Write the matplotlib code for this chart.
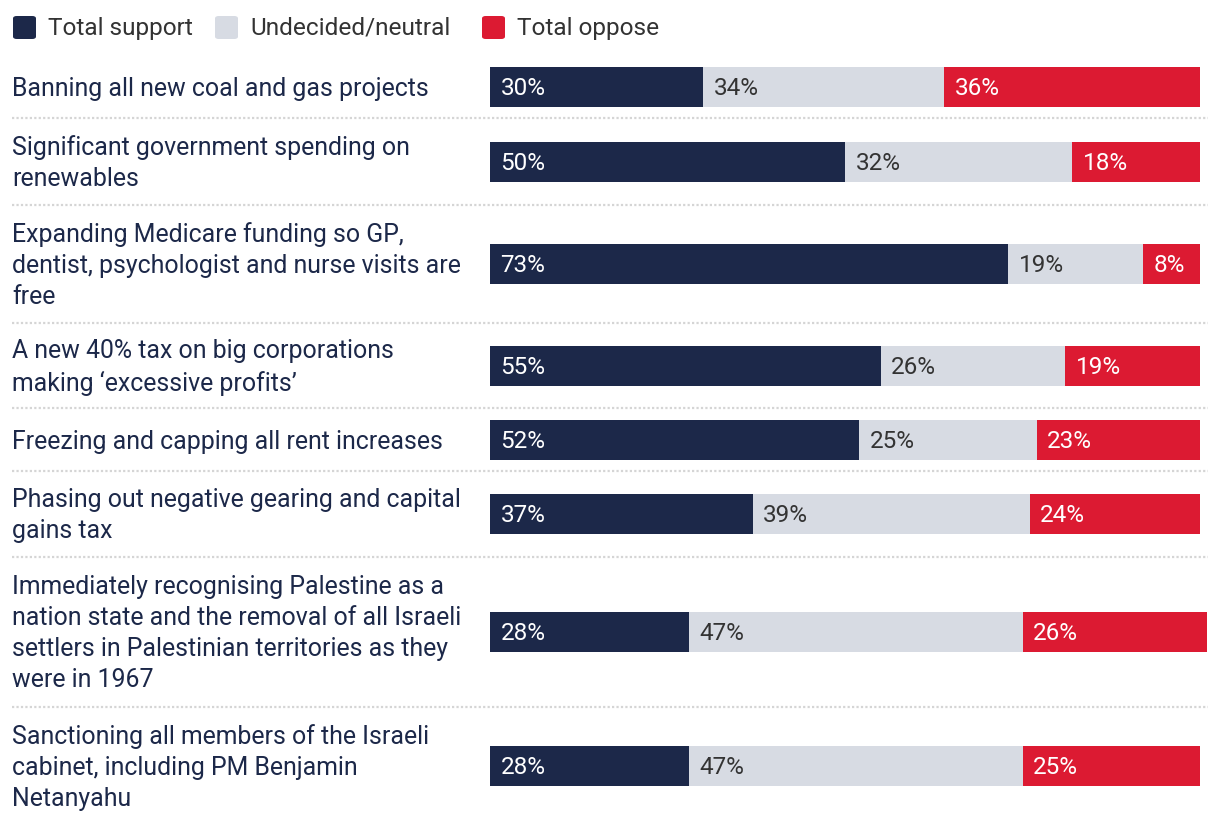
import matplotlib
matplotlib.use("Agg")
import matplotlib.pyplot as plt
from matplotlib import transforms
from matplotlib.lines import Line2D
from matplotlib.patches import FancyBboxPatch

plt.rcParams['font.family'] = ['Roboto', 'DejaVu Sans']

questions = [
    "Banning all new coal and gas projects",
    "Significant government spending on\nrenewables",
    "Expanding Medicare funding so GP,\ndentist, psychologist and nurse visits are\nfree",
    "A new 40% tax on big corporations\nmaking \u2018excessive profits\u2019",
    "Freezing and capping all rent increases",
    "Phasing out negative gearing and capital\ngains tax",
    "Immediately recognising Palestine as a\nnation state and the removal of all Israeli\nsettlers in Palestinian territories as they\nwere in 1967",
    "Sanctioning all members of the Israeli\ncabinet, including PM Benjamin\nNetanyahu",
]
support = [30, 50, 73, 55, 52, 37, 28, 28]
neutral = [34, 32, 19, 26, 25, 39, 47, 47]
oppose = [36, 18, 8, 19, 23, 24, 26, 25]

series_names = ["Total support", "Undecided/neutral", "Total oppose"]
colors = ["#1c2849", "#d7dbe3", "#dc1a32"]
text_colors = ["white", "#333333", "white"]

# layout (pixel rows, top = 0)
W, H = 1220, 824
row_y = [87, 162, 264, 366, 440, 514, 632, 766]
sep_y = [118, 205, 323, 408, 471, 557, 707]

fig = plt.figure(figsize=(W / 100, H / 100), dpi=100)
ax = fig.add_axes([490 / W, 0, 710 / W, 1])
ax.set_xlim(0, 100)
ax.set_ylim(H, 0)
ax.axis("off")

lefts = [0] * len(support)
for vals, col, tcol in zip([support, neutral, oppose], colors, text_colors):
    bars = ax.barh(row_y, vals, left=lefts, height=40, color=col, linewidth=0)
    for b in bars:
        b.set_clip_on(False)
    for y, v, l in zip(row_y, vals, lefts):
        ax.annotate(f"{v}%", (l, y + 1), xytext=(7.5, 0), textcoords="offset points",
                    ha="left", va="center", color=tcol, fontsize=17.5)
    lefts = [a + b for a, b in zip(lefts, vals)]

lab_tr = transforms.blended_transform_factory(fig.transFigure, ax.transData)
for y, q in zip(row_y, questions):
    fig.text(12 / W, y + 1.5, q, transform=lab_tr, ha="left", va="center",
             fontsize=17.9, color="#1c2849", linespacing=1.37)

for y in sep_y:
    fig.add_artist(Line2D([12 / W, 1208 / W], [y, y], transform=lab_tr,
                          color="#d5d5d5", lw=1.6, linestyle=(0, (1, 1))))

# legend
leg_x = [12, 214, 481]
for x, name, col in zip(leg_x, series_names, colors):
    fig.add_artist(FancyBboxPatch(((x + 1) / W, 1 - 39 / H), 23 / W, 23 / H,
                                  boxstyle="round,pad=0,rounding_size=0.003",
                                  transform=fig.transFigure, color=col, lw=0))
    fig.text((x + 36) / W, 1 - 28 / H, name, ha="left", va="center",
             fontsize=17.6, color="#333333")

fig.savefig("out.png", dpi=100)
